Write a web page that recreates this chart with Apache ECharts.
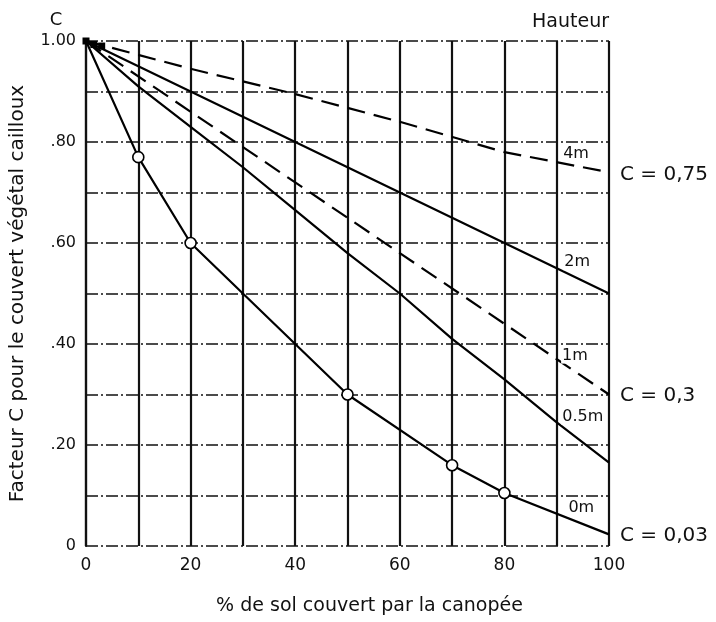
<!DOCTYPE html>
<html><head><meta charset="utf-8">
<script src="https://cdn.jsdelivr.net/npm/echarts@6/dist/echarts.min.js"></script>
<style>html,body{margin:0;padding:0;background:#fff}#c{width:716px;height:622px}</style>
</head><body><div id="c"></div>
<script>
// ---- data ----
const xTicks = [0, 20, 40, 60, 80, 100];
const yTicks = [0, 0.2, 0.4, 0.6, 0.8, 1.0];
const yTickLabels = ['0', '.20', '.40', '.60', '.80', '1.00'];
const h4m  = [[0,1.0],[20,0.945],[40,0.895],[60,0.84],[80,0.78],[100,0.74]];
const h2m  = [[0,1.0],[20,0.9],[40,0.8],[60,0.7],[80,0.6],[100,0.5]];
const h1m  = [[0,1.0],[20,0.86],[40,0.72],[60,0.58],[80,0.44],[100,0.3]];
const h05m = [[0,1.0],[10,0.91],[20,0.83],[30,0.75],[40,0.665],[50,0.58],[60,0.5],[70,0.41],[80,0.33],[90,0.245],[100,0.165]];
const h0m  = [[0,1.0],[10,0.77],[20,0.6],[50,0.3],[70,0.16],[80,0.105],[100,0.023]];
const h0mMarkers = [[10,0.77],[20,0.6],[50,0.3],[70,0.16],[80,0.105]];
const originBlob = [[0,1.0],[1.5,0.993],[3,0.99]];
const heightLabels = ['4m', '2m', '1m', '0.5m', '0m'];
const heightLabelAt = [[93.7,0.777],[93.9,0.562],[93.5,0.377],[95,0.256],[94.7,0.075]];
const endLabels = ['C = 0,75', 'C = 0,3', 'C = 0,03'];
const endLabelAt = [[100,0.735],[100,0.298],[100,0.02]];

const FONT = 'DejaVu Sans';
const chart = echarts.init(document.getElementById('c'), null, {renderer: 'canvas'});

function lineSeries(name, data, dashed) {
  return {
    name: name, type: 'line', data: data, showSymbol: false, symbol: 'none',
    lineStyle: {color: '#000', width: 2.2, type: dashed ? [18, 9] : 'solid'},
    z: 3, silent: true, animation: false
  };
}

chart.setOption({
  animation: false,
  backgroundColor: '#fff',
  grid: {left: 83, right: 107, top: 41, bottom: 76},
  xAxis: {
    type: 'value', min: 0, max: 100, interval: 10,
    name: '% de sol couvert par la canopée', nameLocation: 'middle', nameGap: 51,
    nameTextStyle: {fontFamily: FONT, fontSize: 19, color: '#111', padding: [0, 0, 0, 44]},
    axisLine: {show: false}, axisTick: {show: false},
    axisLabel: {fontFamily: FONT, fontSize: 17, color: '#111', margin: 11,
      formatter: v => xTicks.indexOf(Math.round(v)) >= 0 ? String(Math.round(v)) : ''},
    splitLine: {show: true, lineStyle: {color: '#111', width: 2.2, type: 'solid'}}
  },
  yAxis: {
    type: 'value', min: 0, max: 1, interval: 0.1,
    name: 'Facteur C pour le couvert végétal cailloux', nameLocation: 'middle', nameGap: 58, nameRotate: 90,
    nameTextStyle: {fontFamily: FONT, fontSize: 20, color: '#111'},
    axisLine: {show: true, lineStyle: {color: '#111', width: 2.2}}, axisTick: {show: false},
    axisLabel: {fontFamily: FONT, fontSize: 16, color: '#111', margin: 10,
      formatter: v => {
        const i = yTicks.findIndex(t => Math.abs(t - v) < 1e-6);
        return i >= 0 ? yTickLabels[i] : '';
      }},
    splitLine: {show: true, lineStyle: {color: '#111', width: 1.7, type: [12, 3, 2, 3]}}
  },
  series: [
    lineSeries('4m', h4m, true),
    lineSeries('2m', h2m, false),
    lineSeries('1m', h1m, true),
    lineSeries('0.5m', h05m, false),
    lineSeries('0m', h0m, false),
    {type: 'scatter', data: h0mMarkers, symbol: 'circle', symbolSize: 11, z: 5, silent: true,
      itemStyle: {color: '#fff', borderColor: '#000', borderWidth: 1.6, opacity: 1}},
    {type: 'scatter', data: originBlob, symbol: 'rect', symbolSize: 7, z: 5, silent: true, clip: false,
      itemStyle: {color: '#000', opacity: 1}}
  ]
});

const g = [];
heightLabels.forEach((t, i) => {
  const p = chart.convertToPixel({gridIndex: 0}, heightLabelAt[i]);
  g.push({type: 'text', x: p[0], y: p[1], z: 10,
    style: {text: t, fontFamily: FONT, fontSize: 16, fill: '#111', align: 'center', verticalAlign: 'middle',
      backgroundColor: '#fff', padding: [0, 1]}});
});
endLabels.forEach((t, i) => {
  const p = chart.convertToPixel({gridIndex: 0}, endLabelAt[i]);
  g.push({type: 'text', x: p[0] + 11, y: p[1], z: 10,
    style: {text: t, fontFamily: FONT, fontSize: 20, fill: '#111', align: 'left', verticalAlign: 'middle'}});
});
const pTop = chart.convertToPixel({gridIndex: 0}, [0, 1]);
const pTopR = chart.convertToPixel({gridIndex: 0}, [100, 1]);
g.push({type: 'text', x: pTop[0] - 30, y: pTop[1] - 21, style: {text: 'C', fontFamily: FONT, fontSize: 18, fill: '#111', align: 'center', verticalAlign: 'middle'}});
g.push({type: 'text', x: pTopR[0], y: pTop[1] - 19, style: {text: 'Hauteur', fontFamily: FONT, fontSize: 19, fill: '#111', align: 'right', verticalAlign: 'middle'}});
chart.setOption({graphic: g});
</script>
</body></html>
